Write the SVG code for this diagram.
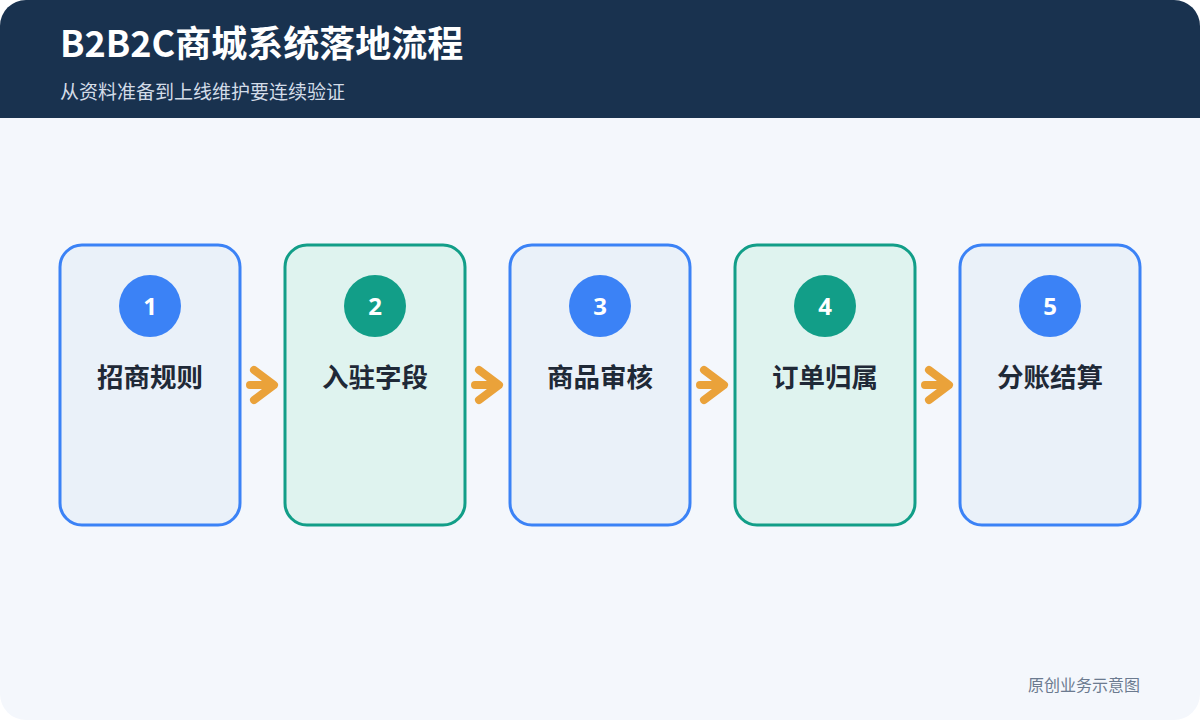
<svg xmlns="http://www.w3.org/2000/svg" width="1200" height="720" viewBox="0 0 1200 720">
<defs>
<style>
.card-b{fill:#eaf1f9;stroke:#3b82f6;stroke-width:3}
.card-g{fill:#dff3ef;stroke:#129e88;stroke-width:3}
.c-b{fill:#3b82f6}
.c-g{fill:#129e88}
.num{font-family:"Noto Sans","Liberation Sans",sans-serif;font-weight:700;font-size:24px;fill:#ffffff;text-anchor:middle}
.lbl{font-family:"Noto Sans CJK SC","Noto Sans",sans-serif;font-weight:700;font-size:26.5px;fill:#1f2937;text-anchor:middle}
.arr{fill:none;stroke:#eaa23a;stroke-width:8;stroke-linecap:round;stroke-linejoin:round}
</style>
<clipPath id="page"><rect x="0" y="0" width="1200" height="720" rx="26"/></clipPath>
</defs>
<rect width="1200" height="720" fill="#ffffff"/>
<g clip-path="url(#page)">
<rect x="0" y="0" width="1200" height="720" fill="#f4f7fc"/>
<rect x="0" y="0" width="1200" height="118" fill="#19324f"/>
</g>
<text x="60" y="57" font-family="Noto Sans CJK SC,Noto Sans,sans-serif" font-weight="700" font-size="36" fill="#ffffff">B2B2C商城系统落地流程</text>
<text x="60" y="99" font-family="Noto Sans CJK SC,Noto Sans,sans-serif" font-size="19" fill="#d3dce8">从资料准备到上线维护要连续验证</text>
<g id="connectors">
<path class="arr" d="M250 385H273M254 370L274 385L254 400"/>
<path class="arr" d="M475 385H498M479 370L499 385L479 400"/>
<path class="arr" d="M700 385H723M704 370L724 385L704 400"/>
<path class="arr" d="M925 385H948M929 370L949 385L929 400"/>
</g>
<g id="node1">
<rect class="card-b" x="60" y="245" width="180" height="280" rx="22"/>
<circle class="c-b" cx="150" cy="306" r="31"/>
<text class="num" x="150" y="315">1</text>
<text class="lbl" x="150" y="387">招商规则</text>
</g>
<g id="node2">
<rect class="card-g" x="285" y="245" width="180" height="280" rx="22"/>
<circle class="c-g" cx="375" cy="306" r="31"/>
<text class="num" x="375" y="315">2</text>
<text class="lbl" x="375" y="387">入驻字段</text>
</g>
<g id="node3">
<rect class="card-b" x="510" y="245" width="180" height="280" rx="22"/>
<circle class="c-b" cx="600" cy="306" r="31"/>
<text class="num" x="600" y="315">3</text>
<text class="lbl" x="600" y="387">商品审核</text>
</g>
<g id="node4">
<rect class="card-g" x="735" y="245" width="180" height="280" rx="22"/>
<circle class="c-g" cx="825" cy="306" r="31"/>
<text class="num" x="825" y="315">4</text>
<text class="lbl" x="825" y="387">订单归属</text>
</g>
<g id="node5">
<rect class="card-b" x="960" y="245" width="180" height="280" rx="22"/>
<circle class="c-b" cx="1050" cy="306" r="31"/>
<text class="num" x="1050" y="315">5</text>
<text class="lbl" x="1050" y="387">分账结算</text>
</g>
<text x="1140" y="691" text-anchor="end" font-family="Noto Sans CJK SC,Noto Sans,sans-serif" font-size="16" fill="#6b7a8f">原创业务示意图</text>
</svg>
